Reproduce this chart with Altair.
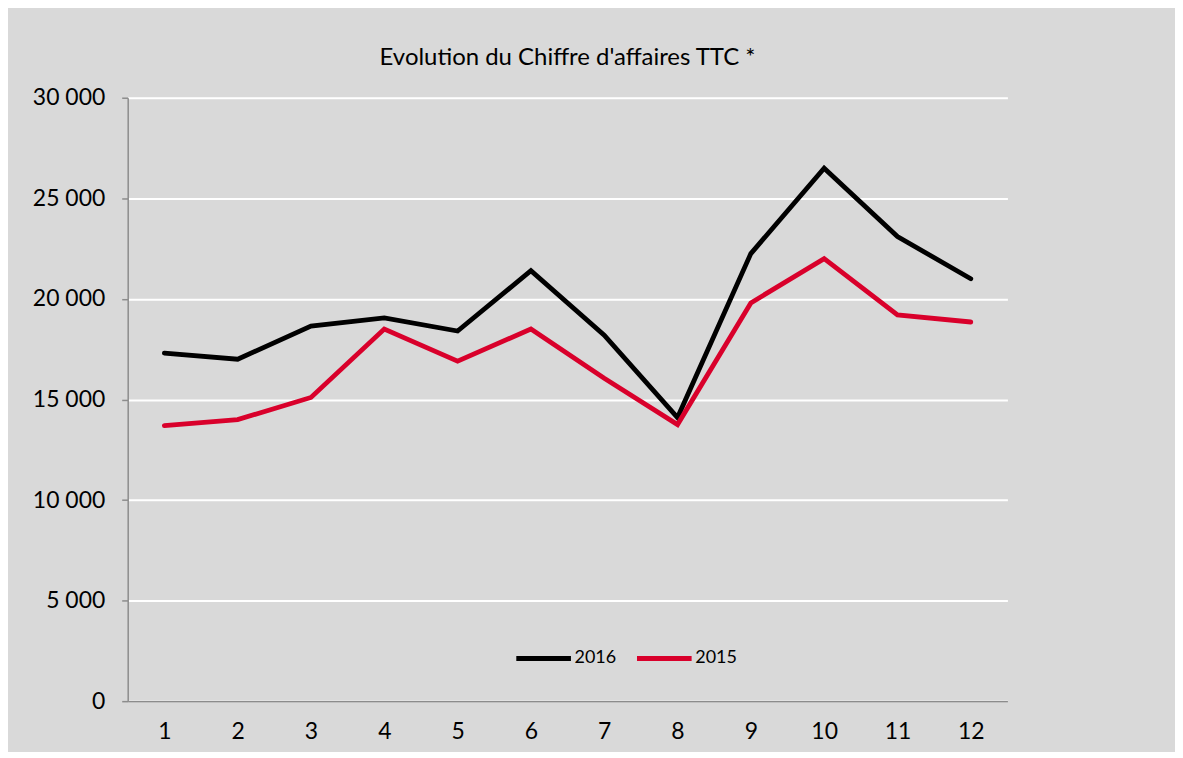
import altair as alt
import pandas as pd

months = [str(i) for i in range(1, 13)]
ca_2016 = [17300, 17000, 18650, 19050, 18400, 21400, 18200, 14100, 22250, 26500, 23100, 21000]
ca_2015 = [13700, 14000, 15100, 18500, 16900, 18500, 16050, 13750, 19800, 22000, 19200, 18850]
series = ["2016", "2015"]
colors = ["#000000", "#d9002b"]

rows = []
for m, v in zip(months, ca_2016):
    rows.append({"mois": m, "ca": v, "annee": "2016"})
for m, v in zip(months, ca_2015):
    rows.append({"mois": m, "ca": v, "annee": "2015"})
df = pd.DataFrame(rows)

FONT = "Lato"

chart = alt.Chart(df).mark_line(strokeWidth=4.8, strokeCap="round", strokeJoin="miter").encode(
    x=alt.X("mois:O", sort=months, title=None,
            scale=alt.Scale(type="point", padding=0.5),
            axis=alt.Axis(labelAngle=0, ticks=False, grid=False, labelPadding=19,
                          labelFontSize=23, labelColor="#000000", labelFont=FONT,
                          domainColor="#8c8c8c", domainWidth=1.5)),
    y=alt.Y("ca:Q", title=None,
            scale=alt.Scale(domain=[0, 30000], nice=False),
            axis=alt.Axis(values=[0, 5000, 10000, 15000, 20000, 25000, 30000],
                          labelExpr="replace(format(datum.value, ','), regexp(',', 'g'), ' ')",
                          labelFontSize=23, labelColor="#000000", labelFont=FONT,
                          labelPadding=17, tickSize=6, tickColor="#8c8c8c", tickWidth=1.5,
                          domainColor="#8c8c8c", domainWidth=1.5,
                          grid=True, gridColor="#ffffff", gridWidth=2)),
    color=alt.Color("annee:N", sort=series,
                    scale=alt.Scale(domain=series, range=colors),
                    legend=alt.Legend(title=None, orient="none", direction="horizontal",
                                      legendX=387, legendY=532,
                                      symbolType="stroke", symbolSize=3000,
                                      symbolStrokeWidth=4.8, labelFontSize=18,
                                      labelFont=FONT, labelColor="#000000",
                                      labelOffset=1, columnPadding=11)),
).properties(
    width=882,
    height=605,
    title=alt.TitleParams("Evolution du Chiffre d'affaires TTC *", fontSize=24,
                          font=FONT, fontWeight="normal", color="#000000",
                          anchor="middle", offset=17),
    background="#d9d9d9",
    padding={"left": 120, "top": 89, "right": 168, "bottom": 50},
    autosize=alt.AutoSizeParams(type="none"),
).configure_view(stroke=None, fill="#d9d9d9")

chart.save("out.html", embed_options={"renderer": "svg", "actions": False})
